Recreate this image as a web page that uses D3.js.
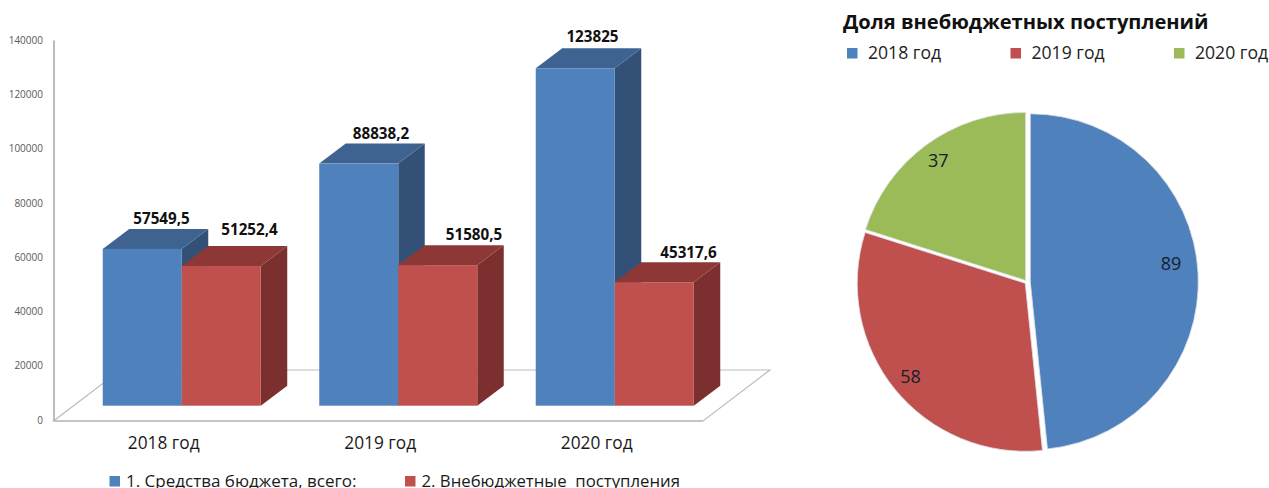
<!DOCTYPE html>
<html>
<head>
<meta charset="utf-8">
<script src="https://cdn.jsdelivr.net/npm/d3@7"></script>
<style>
  html, body { margin: 0; padding: 0; background: #fff; overflow: hidden; }
  svg { display: block; font-family: "Open Sans", "Noto Sans", sans-serif; }
</style>
</head>
<body>
<svg id="chart" width="1269" height="488"></svg>
<script>
const years = ["2018 год", "2019 год", "2020 год"];
const seriesNames = ["1. Средства бюджета, всего:", "2. Внебюджетные  поступления"];
const budgetValues = [57549.5, 88838.2, 123825];
const offBudgetValues = [51252.4, 51580.5, 45317.6];
const shareValues = [89, 58, 37];
const yTicks = [0, 20000, 40000, 60000, 80000, 100000, 120000, 140000];

const colors = ["#4f81bd", "#c0504d", "#9bbb59"];
const topColors = ["#3e6390", "#8d3836"];
const sideColors = ["#335177", "#7b302f"];

const svg = d3.select("#chart");

// ---- left chart, fake 3d column
const depth = { x: 26.5, y: 20 };
const floor = { left: 53.5, right: 703, front: 421, back: 370 };
const floorDx = 67;

const x0 = d3.scaleBand().domain(years).range([floor.left, floor.right]);
const x1 = d3.scaleBand().domain([0, 1]).range([0, 158]);
const yAxisScale = d3.scaleLinear().domain([0, 140000]).range([420, 40]);
// the columns stand further back on the floor than the axis
const yBar = d3.scaleLinear().domain([0, 140000]).range([405.7, 24.2]);

svg.append("polygon")
  .attr("points", [
    [floor.left, floor.front],
    [floor.right, floor.front],
    [floor.right + floorDx, floor.back],
    [floor.left + floorDx, floor.back]
  ].join(" "))
  .attr("fill", "#fff")
  .attr("stroke", "#bdbdbd")
  .attr("stroke-width", 1.2);

svg.append("line")
  .attr("x1", floor.left).attr("x2", floor.right)
  .attr("y1", floor.front).attr("y2", floor.front)
  .attr("stroke", "#c4c4c4")
  .attr("stroke-width", 2);

const yAxis = svg.append("g")
  .attr("transform", `translate(${floor.left},0)`)
  .call(d3.axisLeft(yAxisScale).tickValues(yTicks).tickSize(0).tickPadding(10.5).tickFormat(d3.format("d")));
yAxis.select(".domain").attr("stroke", "#a6a6a6").attr("stroke-width", 1.5);
yAxis.selectAll("text")
  .attr("fill", "#595959")
  .style("font-size", "10px")
  .style("font-family", "Open Sans");

const xAxis = svg.append("g")
  .attr("transform", `translate(2,${floor.front})`)
  .call(d3.axisBottom(x0).tickSize(0).tickPadding(16));
xAxis.select(".domain").remove();
xAxis.selectAll("text")
  .attr("fill", "#1a1a1a")
  .style("font-size", "17.3px")
  .style("font-family", "Open Sans");

const barSeries = [budgetValues, offBudgetValues];
// value labels sit a little off the top face, not the same way on every column
const labelNudgeX = [[6, 9, 4], [15, 23, 21]];
const labelNudgeY = [[-5, -5, -6], [-11, -5, -4]];

years.forEach((year, i) => {
  const group = svg.append("g");
  barSeries.forEach((values, s) => {
    const left = x0(year) + x0.bandwidth() / 2 + 20 - 79 + x1(s);
    const right = left + x1.bandwidth();
    const top = yBar(values[i]);
    const base = yBar(0);

    group.append("polygon")
      .attr("points", [[right, top], [right + depth.x, top - depth.y], [right + depth.x, base - depth.y], [right, base]].join(" "))
      .attr("fill", sideColors[s]);
    group.append("polygon")
      .attr("points", [[left, top], [left + depth.x, top - depth.y], [right + depth.x, top - depth.y], [right, top]].join(" "))
      .attr("fill", topColors[s]);
    group.append("rect")
      .attr("x", left)
      .attr("y", top)
      .attr("width", right - left)
      .attr("height", base - top)
      .attr("fill", colors[s]);
  });
  barSeries.forEach((values, s) => {
    const left = x0(year) + x0.bandwidth() / 2 + 20 - 79 + x1(s);
    group.append("text")
      .attr("x", left + x1.bandwidth() / 2 + depth.x / 2 + labelNudgeX[s][i])
      .attr("y", yBar(values[i]) - depth.y + labelNudgeY[s][i])
      .attr("text-anchor", "middle")
      .attr("fill", "#111")
      .style("font-size", "15.2px")
      .style("font-weight", "bold")
      .text(String(values[i]).replace(".", ","));
  });
});

const legendLeft = svg.append("g");
const legendLeftX = [109.5, 405];
const legendLeftSize = [17, 16.75];
seriesNames.forEach((name, i) => {
  legendLeft.append("rect")
    .attr("x", legendLeftX[i]).attr("y", 476)
    .attr("width", 10.5).attr("height", 10.5)
    .attr("fill", colors[i]);
  legendLeft.append("text")
    .attr("x", legendLeftX[i] + 16.5).attr("y", 487)
    .style("white-space", "pre")
    .attr("fill", "#1a1a1a")
    .style("font-size", legendLeftSize[i] + "px")
    .text(name);
});

// ---- right chart, exploded pie
svg.append("text")
  .attr("x", 843).attr("y", 29)
  .attr("fill", "#111")
  .style("font-size", "20.1px")
  .style("font-weight", "bold")
  .text("Доля внебюджетных поступлений");

const legendRightX = [847, 1010.5, 1174];
years.forEach((year, i) => {
  svg.append("rect")
    .attr("x", legendRightX[i]).attr("y", 48)
    .attr("width", 10.5).attr("height", 10.5)
    .attr("fill", colors[i]);
  svg.append("text")
    .attr("x", legendRightX[i] + 21).attr("y", 59)
    .attr("fill", "#222")
    .style("font-size", "17.6px")
    .text(year);
});

const pieCenter = { x: 1026.8, y: 282 };
const radius = 168;
const explode = [3.5, 2, 2];

const pie = d3.pie().sort(null)(shareValues);
const arc = d3.arc().innerRadius(0).outerRadius(radius);
const labelArc = d3.arc().innerRadius(148).outerRadius(148);
const pieLabelNudge = [[-7, -11], [0, 0], [0, 0]];

const pieGroup = svg.append("g")
  .attr("transform", `translate(${pieCenter.x},${pieCenter.y})`);

pie.forEach((slice, i) => {
  const mid = (slice.startAngle + slice.endAngle) / 2;
  const dx = Math.sin(mid) * explode[i];
  const dy = -Math.cos(mid) * explode[i];
  const g = pieGroup.append("g").attr("transform", `translate(${dx},${dy})`);
  g.append("path")
    .attr("d", arc(slice))
    .attr("fill", colors[i])
    .attr("stroke", "#dde1e6")
    .attr("stroke-width", 0.8);
  const c = labelArc.centroid(slice);
  g.append("text")
    .attr("x", c[0] + pieLabelNudge[i][0])
    .attr("y", c[1] + pieLabelNudge[i][1])
    .attr("dy", "0.35em")
    .attr("text-anchor", "middle")
    .attr("fill", "#14202e")
    .style("font-size", "18px")
    .text(slice.data);
});
</script>
</body>
</html>
